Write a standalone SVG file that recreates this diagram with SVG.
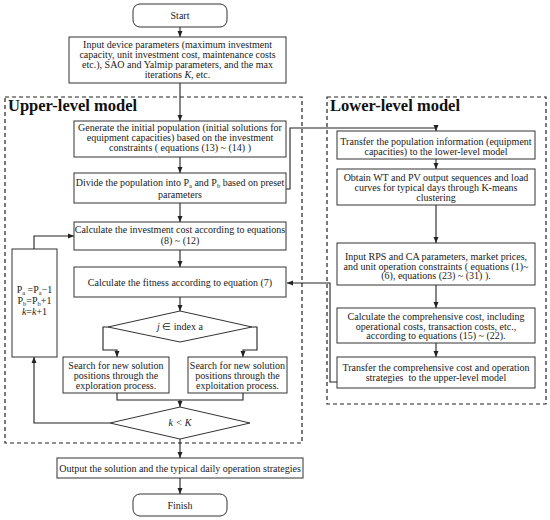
<svg xmlns="http://www.w3.org/2000/svg" width="550" height="520" viewBox="0 0 550 520">
<defs>
<marker id="ah" markerUnits="userSpaceOnUse" markerWidth="7" markerHeight="6" refX="6" refY="3" orient="auto">
<path d="M0,0.5 L6,3 L0,5.5 z" fill="#222"/>
</marker>
<style>
.box{fill:#fff;stroke:#333;stroke-width:1}
.dash{fill:none;stroke:#222;stroke-width:1.2;stroke-dasharray:4,3}
.t{font-family:"Liberation Serif","Times New Roman",serif;font-size:10px;fill:#1a1a1a;text-anchor:middle}
.sub{font-size:6.5px}
.title{font-family:"Liberation Serif","Times New Roman",serif;font-size:16.5px;font-weight:bold;fill:#111}
.c{fill:none;stroke:#222;stroke-width:1.1}
.ca{fill:none;stroke:#222;stroke-width:1.1;marker-end:url(#ah)}
</style>
</defs>
<rect width="550" height="520" fill="#fff"/>

<g id="frames">
<rect class="dash" x="5" y="97" width="297" height="346"/>
<text class="title" x="8" y="111">Upper-level model</text>
<rect class="dash" x="327" y="97" width="219" height="307"/>
<text class="title" x="330" y="111">Lower-level model</text>
</g>

<g id="connectors">
<line class="ca" x1="180" y1="27" x2="180" y2="37"/>
<line class="ca" x1="180" y1="83" x2="180" y2="121"/>
<line class="ca" x1="180" y1="157" x2="180" y2="173"/>
<line class="ca" x1="180" y1="203" x2="180" y2="222"/>
<line class="ca" x1="180" y1="250" x2="180" y2="267"/>
<line class="ca" x1="180" y1="297" x2="180" y2="311"/>
<polyline class="ca" points="108,327 103,327 103,350 117,350 117,357"/>
<polyline class="ca" points="252,327 257,327 257,350 243,350 243,357"/>
<polyline class="c" points="117,393 117,400 243,400 243,393"/>
<line class="ca" x1="180" y1="400" x2="180" y2="407"/>
<polyline class="ca" points="110,423 34,423 34,357"/>
<polyline class="ca" points="34,249 34,236 74,236"/>
<line class="ca" x1="180" y1="439" x2="180" y2="458"/>
<line class="ca" x1="180" y1="478" x2="180" y2="494"/>
<polyline class="ca" points="286,189 290,189 290,128 436,128 436,131"/>
<line class="ca" x1="436" y1="159" x2="436" y2="169"/>
<line class="ca" x1="436" y1="205" x2="436" y2="243"/>
<line class="ca" x1="436" y1="285" x2="436" y2="308"/>
<line class="ca" x1="436" y1="343" x2="436" y2="357"/>
<polyline class="ca" points="337,382 330,382 330,283 287,283"/>
</g>

<g id="start">
<rect class="box" x="133" y="4" width="94" height="23" rx="7"/>
<text class="t" x="180" y="19">Start</text>
</g>

<g id="input">
<rect class="box" x="69" y="37" width="217" height="46"/>
<text class="t" x="177.5" y="48">Input device parameters (maximum investment</text>
<text class="t" x="177.5" y="58">capacity, unit investment cost, maintenance costs</text>
<text class="t" x="177.5" y="68">etc.), SAO and Yalmip parameters, and the max</text>
<text class="t" x="177.5" y="78">iterations <tspan font-style="italic">K</tspan>, etc.</text>
</g>

<g id="generate">
<rect class="box" x="74" y="121" width="212" height="36"/>
<text class="t" x="180" y="131">Generate the initial population (initial solutions for</text>
<text class="t" x="180" y="141">equipment capacities) based on the investment</text>
<text class="t" x="180" y="151">constraints ( equations (13) ~ (14) )</text>
</g>

<g id="divide">
<rect class="box" x="74" y="173" width="212" height="30"/>
<text class="t" x="180" y="186">Divide the population into P<tspan class="sub" dy="1.5">a</tspan><tspan dy="-1.5"> and P</tspan><tspan class="sub" dy="1.5">b</tspan><tspan dy="-1.5"> based on preset</tspan></text>
<text class="t" x="180" y="198">parameters</text>
</g>

<g id="investment">
<rect class="box" x="74" y="222" width="212" height="28"/>
<text class="t" x="180" y="233">Calculate the investment cost according to equations</text>
<text class="t" x="180" y="244">(8) ~ (12)</text>
</g>

<g id="fitness">
<rect class="box" x="74" y="267" width="212" height="30"/>
<text class="t" x="180" y="286">Calculate the fitness according to equation (7)</text>
</g>

<g id="loop">
<rect class="box" x="12" y="249" width="45" height="108"/>
<text class="t" x="34.5" y="293">P<tspan class="sub" dy="1.5">a</tspan><tspan dy="-1.5"> =P</tspan><tspan class="sub" dy="1.5">a</tspan><tspan dy="-1.5">−1</tspan></text>
<text class="t" x="34.5" y="304">P<tspan class="sub" dy="1.5">b</tspan><tspan dy="-1.5">=P</tspan><tspan class="sub" dy="1.5">b</tspan><tspan dy="-1.5">+1</tspan></text>
<text class="t" x="34.5" y="315"><tspan font-style="italic">k</tspan>=<tspan font-style="italic">k</tspan>+1</text>
</g>

<g id="decision-j">
<polygon class="box" points="180,311 252,327 180,342 108,327"/>
<text class="t" x="180" y="330"><tspan font-style="italic">j</tspan> ∈ index a</text>
</g>

<g id="exploration">
<rect class="box" x="63" y="357" width="106" height="36"/>
<text class="t" x="116" y="369">Search for new solution</text>
<text class="t" x="116" y="379">positions through the</text>
<text class="t" x="116" y="389">exploration process.</text>
</g>

<g id="exploitation">
<rect class="box" x="188" y="357" width="99" height="36"/>
<text class="t" x="237.5" y="369">Search for new solution</text>
<text class="t" x="237.5" y="379">positions through the</text>
<text class="t" x="237.5" y="389">exploitation process.</text>
</g>

<g id="decision-k">
<polygon class="box" points="180,407 250,423 180,439 110,423"/>
<text class="t" x="180" y="426" font-style="italic">k &lt; K</text>
</g>

<g id="output">
<rect class="box" x="57" y="458" width="246" height="20"/>
<text class="t" x="180" y="472">Output the solution and the typical daily operation strategies</text>
</g>

<g id="finish">
<rect class="box" x="133" y="494" width="94" height="22" rx="7"/>
<text class="t" x="180" y="508.5">Finish</text>
</g>

<g id="transfer-pop">
<rect class="box" x="337" y="131" width="198" height="28"/>
<text class="t" x="436" y="145">Transfer the population information (equipment</text>
<text class="t" x="436" y="155">capacities) to the lower-level model</text>
</g>

<g id="obtain">
<rect class="box" x="337" y="169" width="198" height="36"/>
<text class="t" x="436" y="181">Obtain WT and PV output sequences and load</text>
<text class="t" x="436" y="191">curves for typical days through K-means</text>
<text class="t" x="436" y="201">clustering</text>
</g>

<g id="input-rps">
<rect class="box" x="337" y="243" width="198" height="42"/>
<text class="t" x="436" y="260">Input RPS and CA parameters, market prices,</text>
<text class="t" x="436" y="269.5">and unit operation constraints ( equations (1)~</text>
<text class="t" x="436" y="279">(6), equations (23) ~ (31) ).</text>
</g>

<g id="comprehensive">
<rect class="box" x="337" y="308" width="198" height="35"/>
<text class="t" x="436" y="320">Calculate the comprehensive cost, including</text>
<text class="t" x="436" y="329.5">operational costs, transaction costs, etc.,</text>
<text class="t" x="436" y="339">according to equations (15) ~ (22).</text>
</g>

<g id="transfer-cost">
<rect class="box" x="337" y="357" width="198" height="31"/>
<text class="t" x="436" y="371">Transfer the comprehensive cost and operation</text>
<text class="t" x="436" y="381" xml:space="preserve">strategies  to the upper-level model</text>
</g>
</svg>
